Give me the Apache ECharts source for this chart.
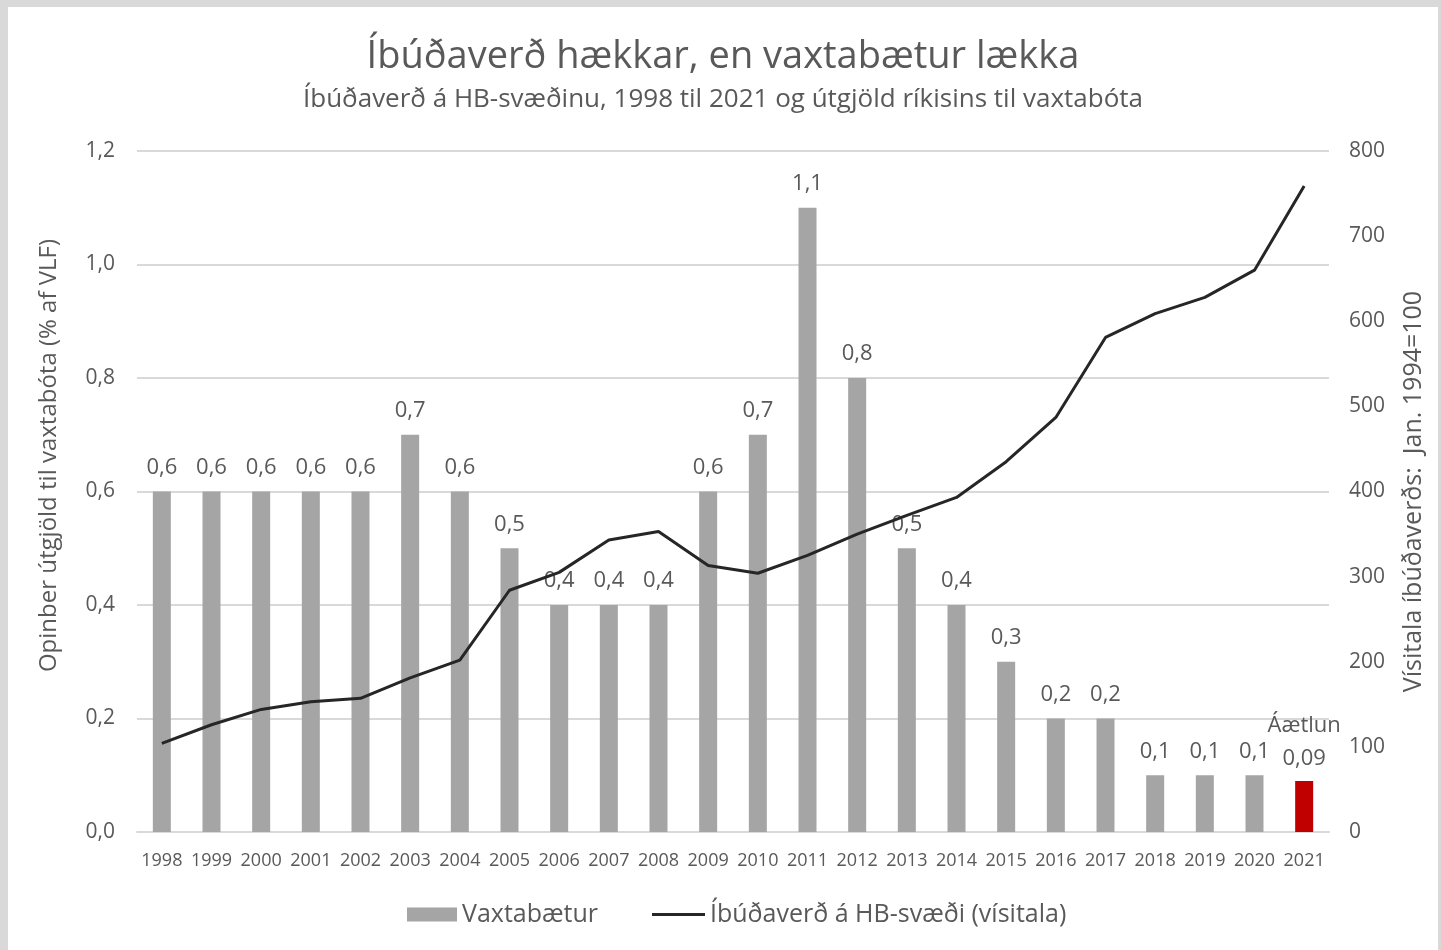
<!DOCTYPE html>
<html>
<head>
    <meta charset="utf-8">
    <title>Íbúðaverð og vaxtabætur</title>
    <script src="https://cdn.jsdelivr.net/npm/echarts@6/dist/echarts.min.js"></script>
    <style>
        html, body { margin: 0; padding: 0; background: #d9d9d9; }
        #main { position: absolute; left: 8px; top: 7px; width: 1430px; height: 943px; background: #fff; }
    </style>
</head>
<body>
<div id="main"></div>
<script type="text/javascript">
    var years = ['1998', '1999', '2000', '2001', '2002', '2003', '2004', '2005', '2006', '2007', '2008', '2009',
        '2010', '2011', '2012', '2013', '2014', '2015', '2016', '2017', '2018', '2019', '2020', '2021'];
    // útgjöld til vaxtabóta, % af VLF
    var vaxtabaetur = [0.6, 0.6, 0.6, 0.6, 0.6, 0.7, 0.6, 0.5, 0.4, 0.4, 0.4, 0.6,
        0.7, 1.1, 0.8, 0.5, 0.4, 0.3, 0.2, 0.2, 0.1, 0.1, 0.1, 0.09];
    // vísitala íbúðaverðs, jan. 1994 = 100
    var ibudaverd = [104, 126, 144, 153, 157, 181, 202, 284, 305, 343, 353, 313,
        304, 325, 350, 372, 393, 435, 487, 581, 609, 628, 660, 759];
    var leftTicks = [0, 1.2, 0.2];
    var rightTicks = [0, 800, 100];

    var font = '"Open Sans", "Noto Sans", sans-serif';
    var comma = function (v) { return String(v).replace('.', ','); };

    var myChart = echarts.init(document.getElementById('main'));

    // síðasta árið er áætlun, rautt
    var barData = vaxtabaetur.map(function (v, i) {
        if (i === vaxtabaetur.length - 1) {
            return {
                value: v,
                itemStyle: { color: '#c00000' },
                label: { formatter: '{a|Áætlun}\n' + comma(v), lineHeight: 33, distance: 6 }
            };
        }
        return v;
    });

    var option = {
        backgroundColor: '#fff',
        title: {
            text: 'Íbúðaverð hækkar, en vaxtabætur lækka',
            subtext: 'Íbúðaverð á HB-svæðinu, 1998 til 2021 og útgjöld ríkisins til vaxtabóta',
            left: 'center',
            top: 26,
            itemGap: 11,
            textStyle: { fontFamily: font, fontWeight: 'normal', fontSize: 38, color: '#595959' },
            subtextStyle: { fontFamily: font, fontSize: 26, color: '#595959' }
        },
        legend: [{
            left: 394,
            bottom: 18,
            itemWidth: 50,
            itemHeight: 14,
            itemGap: 8,
            textStyle: { fontFamily: font, fontSize: 25, color: '#595959' },
            data: [{ name: 'Vaxtabætur', icon: 'rect' }]
        }, {
            left: 639,
            bottom: 18,
            itemWidth: 53,
            itemHeight: 3,
            textStyle: { fontFamily: font, fontSize: 25, color: '#595959' },
            data: [{ name: 'Íbúðaverð á HB-svæði (vísitala)', icon: 'rect' }]
        }],
        grid: { left: 129, right: 109, top: 144, bottom: 118 },
        xAxis: {
            type: 'category',
            data: years,
            axisTick: { show: false },
            axisLine: { lineStyle: { color: '#d9d9d9', width: 2 } },
            axisLabel: { color: '#595959', fontFamily: font, fontSize: 18, margin: 20, interval: 0 }
        },
        yAxis: [{
            type: 'value',
            min: leftTicks[0],
            max: leftTicks[1],
            interval: leftTicks[2],
            name: 'Opinber útgjöld til vaxtabóta (% af VLF)',
            nameLocation: 'middle',
            nameGap: 76,
            nameTextStyle: { fontFamily: font, fontSize: 24, color: '#595959', padding: [0, 0, 0, 72] },
            axisLabel: {
                color: '#595959', fontFamily: font, fontSize: 21, margin: 22,
                formatter: function (v) { return v.toFixed(1).replace('.', ','); }
            },
            splitLine: { lineStyle: { color: '#d9d9d9', width: 2 } }
        }, {
            type: 'value',
            min: rightTicks[0],
            max: rightTicks[1],
            interval: rightTicks[2],
            name: 'Vísitala íbúðaverðs:  Jan. 1994=100',
            nameLocation: 'middle',
            nameGap: 72,
            nameTextStyle: { fontFamily: font, fontSize: 25, color: '#595959' },
            axisLabel: { color: '#595959', fontFamily: font, fontSize: 21, margin: 20 },
            splitLine: { show: false }
        }],
        series: [{
            name: 'Vaxtabætur',
            type: 'bar',
            barWidth: 18,
            data: barData,
            itemStyle: { color: '#a5a5a5' },
            label: {
                show: true,
                position: 'top',
                distance: 13,
                color: '#595959',
                fontFamily: font,
                fontSize: 22,
                formatter: function (p) { return comma(p.value); },
                rich: { a: { fontFamily: font, fontSize: 22, color: '#595959' } }
            },
            z: 2
        }, {
            name: 'Íbúðaverð á HB-svæði (vísitala)',
            type: 'line',
            yAxisIndex: 1,
            data: ibudaverd,
            symbol: 'none',
            lineStyle: { color: '#262626', width: 3 },
            itemStyle: { color: '#262626' },
            z: 3
        }]
    };

    myChart.setOption(option);
</script>
</body>
</html>
